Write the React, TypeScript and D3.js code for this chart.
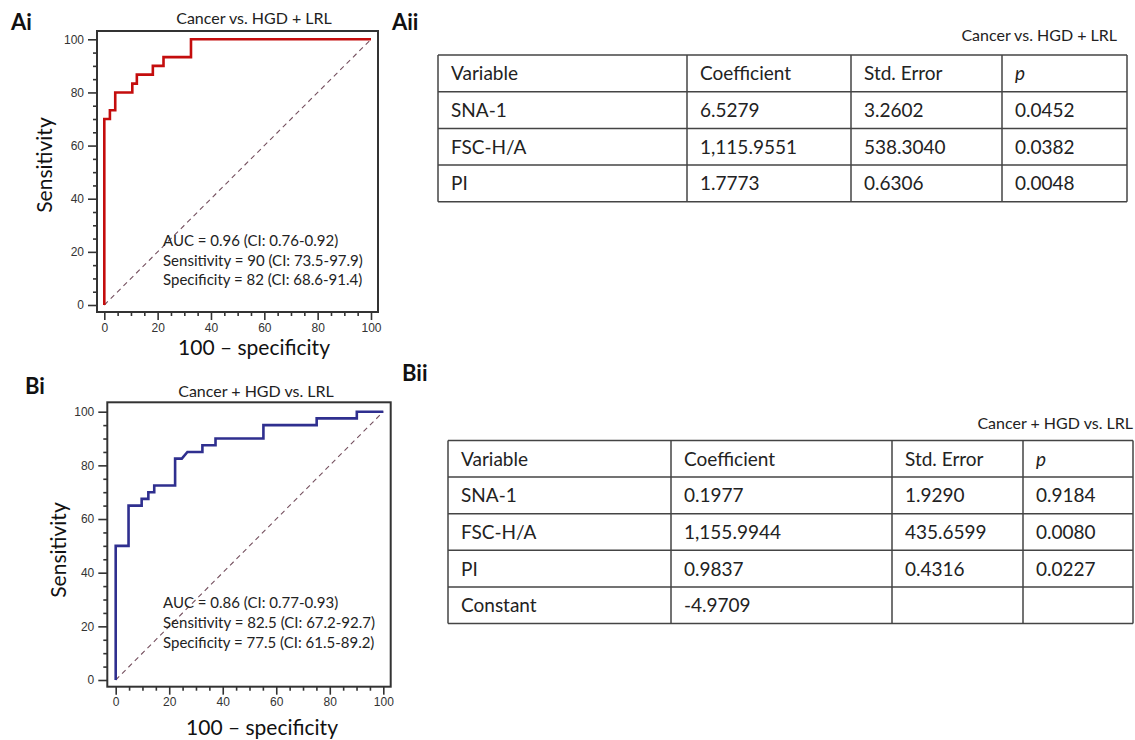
import React, { useEffect, useRef } from "react";
import * as d3 from "d3";

// ---------- Data ----------
const rocA_fpr = [0, 0, 2.1, 2.1, 4.1, 4.1, 10.5, 10.5, 12.2, 12.2, 18.2, 18.2, 22.2, 22.2, 32.5, 32.5, 100];
const rocA_tpr = [0, 70, 70, 73.3, 73.3, 80, 80, 83.3, 83.3, 86.7, 86.7, 90, 90, 93.3, 93.3, 100, 100];

const rocB_fpr = [0, 0, 4.8, 4.8, 9.7, 9.7, 12.2, 12.2, 14.4, 14.4, 22.2, 22.2, 24.7, 26.8, 32.4, 32.4, 37.3, 37.3, 55.2, 55.2, 75.1, 75.1, 90.1, 90.1, 100];
const rocB_tpr = [0, 50, 50, 65, 65, 67.5, 67.5, 70, 70, 72.5, 72.5, 82.5, 82.5, 85, 85, 87.5, 87.5, 90, 90, 95, 95, 97.5, 97.5, 100, 100];

const majorTicks = [0, 20, 40, 60, 80, 100];

const titleA = "Cancer vs. HGD + LRL";
const titleB = "Cancer + HGD vs. LRL";
const statsA = ["AUC = 0.96 (CI: 0.76-0.92)", "Sensitivity = 90 (CI: 73.5-97.9)", "Specificity = 82 (CI: 68.6-91.4)"];
const statsB = ["AUC = 0.86 (CI: 0.77-0.93)", "Sensitivity = 82.5 (CI: 67.2-92.7)", "Specificity = 77.5 (CI: 61.5-89.2)"];

const tableHeader = ["Variable", "Coefficient", "Std. Error", "p"];
const tableA_rows = [
  ["SNA-1", "6.5279", "3.2602", "0.0452"],
  ["FSC-H/A", "1,115.9551", "538.3040", "0.0382"],
  ["PI", "1.7773", "0.6306", "0.0048"],
];
const tableB_rows = [
  ["SNA-1", "0.1977", "1.9290", "0.9184"],
  ["FSC-H/A", "1,155.9944", "435.6599", "0.0080"],
  ["PI", "0.9837", "0.4316", "0.0227"],
  ["Constant", "-4.9709", "", ""],
];

const FONT = "Lato, 'Open Sans', sans-serif";
const TICKFONT = "'Liberation Sans', Arial, sans-serif";

type PanelCfg = {
  frame: [number, number, number, number]; // x0, y0, x1, y1
  xr: [number, number];
  yr: [number, number];
  fpr: number[];
  tpr: number[];
  color: string;
};

const panelA: PanelCfg = {
  frame: [97, 31, 378, 312],
  xr: [104.3, 371],
  yr: [305, 39.3],
  fpr: rocA_fpr,
  tpr: rocA_tpr,
  color: "#c40d0d",
};
const panelB: PanelCfg = {
  frame: [107.3, 402.3, 390.7, 686.7],
  xr: [115.7, 383.3],
  yr: [680, 411.7],
  fpr: rocB_fpr,
  tpr: rocB_tpr,
  color: "#2f2f8f",
};

function drawPanel(g: d3.Selection<SVGGElement, unknown, null, undefined>, cfg: PanelCfg) {
  const x = d3.scaleLinear().domain([0, 100]).range(cfg.xr);
  const y = d3.scaleLinear().domain([0, 100]).range(cfg.yr);
  const [fx0, fy0, fx1, fy1] = cfg.frame;
  const minor = d3.range(0, 101, 5).filter((v) => v % 20 !== 0);

  // diagonal reference
  g.append("path")
    .attr("d", d3.line<number>().x((d) => x(d)).y((d) => y(d))([0, 100]) as string)
    .attr("stroke", "#75505f")
    .attr("stroke-width", 1.1)
    .attr("stroke-dasharray", "5,4")
    .attr("fill", "none");

  // ROC curve
  const pts = cfg.fpr.map((v, i) => [v, cfg.tpr[i]] as [number, number]);
  g.append("path")
    .attr("d", d3.line<[number, number]>().x((d) => x(d[0])).y((d) => y(d[1]))(pts) as string)
    .attr("stroke", cfg.color)
    .attr("stroke-width", 2.6)
    .attr("fill", "none");

  // frame
  g.append("rect")
    .attr("x", fx0)
    .attr("y", fy0)
    .attr("width", fx1 - fx0)
    .attr("height", fy1 - fy0)
    .attr("fill", "none")
    .attr("stroke", "#333")
    .attr("stroke-width", 2);

  // y axis
  const yAxis = g.append("g").attr("transform", `translate(${fx0},0)`);
  yAxis.call(d3.axisLeft(y).tickValues(majorTicks).tickSize(9).tickPadding(4).tickFormat(d3.format("d")));
  yAxis.append("g").call(d3.axisLeft(y).tickValues(minor).tickSize(4).tickFormat(() => ""));
  // x axis
  const xAxis = g.append("g").attr("transform", `translate(0,${fy1})`);
  xAxis.call(d3.axisBottom(x).tickValues(majorTicks).tickSize(8).tickPadding(3).tickFormat(d3.format("d")));
  xAxis.append("g").call(d3.axisBottom(x).tickValues(minor).tickSize(4).tickFormat(() => ""));

  g.selectAll(".domain").remove();
  g.selectAll(".tick line").attr("stroke", "#333").attr("stroke-width", 1.6);
  g.selectAll(".tick text").attr("font-family", TICKFONT).attr("font-size", 12).attr("fill", "#333");
}

function Table({ x, y, colEdges, rowH, rows }: { x: number; y: number; colEdges: number[]; rowH: number; rows: string[][] }) {
  const all = [tableHeader, ...rows];
  const right = colEdges[colEdges.length - 1];
  const bottom = y + rowH * all.length;
  return (
    <g>
      {all.map((r, ri) => (
        <g key={ri}>
          {r.map((c, ci) => (
            <text
              key={ci}
              x={colEdges[ci] + 13}
              y={y + rowH * ri + rowH / 2 + 7}
              fontFamily={FONT}
              fontSize={19}
              fontStyle={ri === 0 && ci === 3 ? "italic" : "normal"}
              fill="#222"
            >
              {c}
            </text>
          ))}
        </g>
      ))}
      {d3.range(all.length + 1).map((i) => (
        <line key={"h" + i} x1={x} x2={right} y1={y + rowH * i} y2={y + rowH * i} stroke="#444" strokeWidth={1.5} />
      ))}
      {colEdges.map((cx, i) => (
        <line key={"v" + i} x1={cx} x2={cx} y1={y} y2={bottom} stroke="#444" strokeWidth={1.5} />
      ))}
    </g>
  );
}

export default function App() {
  const gA = useRef<SVGGElement>(null);
  const gB = useRef<SVGGElement>(null);

  useEffect(() => {
    const a = d3.select(gA.current as SVGGElement);
    const b = d3.select(gB.current as SVGGElement);
    a.selectAll("*").remove();
    b.selectAll("*").remove();
    drawPanel(a, panelA);
    drawPanel(b, panelB);
  }, []);

  return (
    <svg width={1135} height={740} style={{ position: "absolute", left: 0, top: 0, background: "#fff" }}>
      <rect width={1135} height={740} fill="#fff" />
      <g ref={gA} />
      <g ref={gB} />

      {/* Panel labels */}
      <text x={11} y={30} fontFamily={FONT} fontWeight="bold" fontSize={22} fill="#111">Ai</text>
      <text x={392} y={30} fontFamily={FONT} fontWeight="bold" fontSize={22} fill="#111">Aii</text>
      <text x={25} y={394} fontFamily={FONT} fontWeight="bold" fontSize={22} fill="#111">Bi</text>
      <text x={402} y={381} fontFamily={FONT} fontWeight="bold" fontSize={22} fill="#111">Bii</text>

      {/* Plot titles */}
      <text x={254} y={24} textAnchor="middle" fontFamily={FONT} fontSize={16} fill="#222">{titleA}</text>
      <text x={256} y={397} textAnchor="middle" fontFamily={FONT} fontSize={16} fill="#222">{titleB}</text>

      {/* Axis titles */}
      <text x={254} y={355} textAnchor="middle" fontFamily={FONT} fontSize={21} fill="#111">100 – specificity</text>
      <text x={262} y={735} textAnchor="middle" fontFamily={FONT} fontSize={21} fill="#111">100 – specificity</text>
      <text transform="translate(52,165) rotate(-90)" textAnchor="middle" fontFamily={FONT} fontSize={21} fill="#111">Sensitivity</text>
      <text transform="translate(66,550) rotate(-90)" textAnchor="middle" fontFamily={FONT} fontSize={21} fill="#111">Sensitivity</text>

      {/* Stats */}
      {statsA.map((s, i) => (
        <text key={"sa" + i} x={163} y={246 + i * 19.5} fontFamily={FONT} fontSize={15} fill="#222">{s}</text>
      ))}
      {statsB.map((s, i) => (
        <text key={"sb" + i} x={163} y={608 + i * 20} fontFamily={FONT} fontSize={15} fill="#222">{s}</text>
      ))}

      {/* Table titles */}
      <text x={1117} y={41} textAnchor="end" fontFamily={FONT} fontSize={16} fill="#222">{titleA}</text>
      <text x={1133} y={429} textAnchor="end" fontFamily={FONT} fontSize={16} fill="#222">{titleB}</text>

      <Table x={438} y={55} colEdges={[438, 687, 851, 1002, 1127]} rowH={36.7} rows={tableA_rows} />
      <Table x={448} y={440.5} colEdges={[448, 671, 892, 1023, 1133]} rowH={36.6} rows={tableB_rows} />
    </svg>
  );
}
